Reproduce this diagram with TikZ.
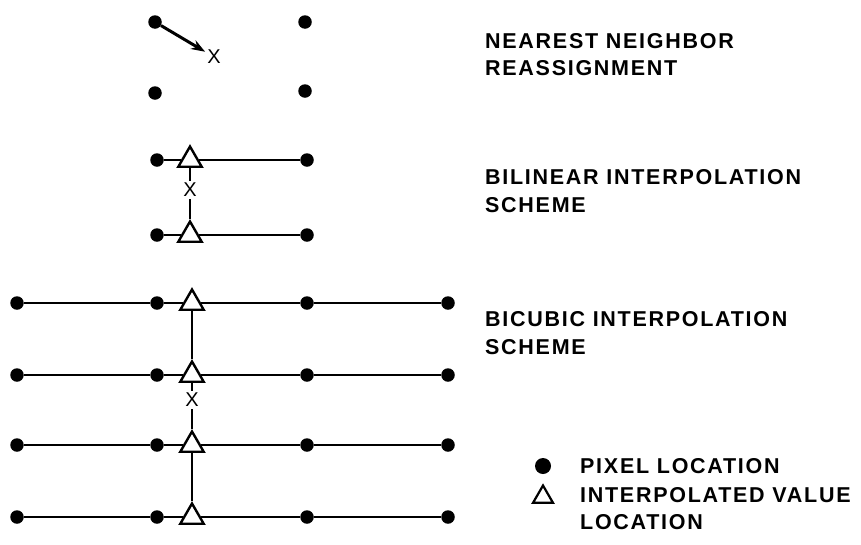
\documentclass[tikz,border=0pt]{standalone}
\usepackage{fontspec}
\setmainfont{Liberation Sans}
\newfontfamily\capsfont{Liberation Sans}[LetterSpace=8]
\usetikzlibrary{arrows.meta,shapes.geometric}

\tikzset{
  pix/.style={circle,fill=black,inner sep=0pt,minimum size=13.5pt},
  ival/.style={regular polygon,regular polygon sides=3,draw=black,line width=2.4pt,
    fill=white,inner sep=0pt,minimum size=27pt},
  xmark/.style={inner sep=2pt,font=\fontsize{20}{20}\selectfont},
  lbl/.style={anchor=west,inner sep=0pt,font=\capsfont\bfseries\fontsize{21.5}{26}\selectfont},
  wire/.style={line width=2.4pt}
}

\begin{document}
\begin{tikzpicture}[x=1pt,y=-1pt,>=Stealth]
    \useasboundingbox (0,0) rectangle (861,544);

    % nearest neighbor
    \node[pix] (nn1) at (155,22) {};
    \node[pix] (nn2) at (305,22) {};
    \node[pix] (nn3) at (155,93) {};
    \node[pix] (nn4) at (305,91) {};
    \node[xmark] (nnx) at (214,57) {X};
    \draw[-{Stealth[length=14pt,width=10pt]},line width=3pt] (nn1) -- (nnx);

    % bilinear
    \foreach \r/\y in {1/160,2/235}{
        \node[pix] (bla\r) at (157,\y) {};
        \node[ival] (blt\r) at (190,\y) {};
        \node[pix] (blb\r) at (307,\y) {};
        \draw[wire] (bla\r) -- (blt\r) -- (blb\r);
    }
    \node[xmark] (blx) at (190,190) {X};
    \draw[wire] (blt1) -- (blx) -- (blt2);

    % bicubic
    \foreach \r/\y in {1/303,2/375,3/445,4/517}{
        \node[pix] (bca\r) at (17,\y) {};
        \node[pix] (bcb\r) at (157,\y) {};
        \node[ival] (bct\r) at (192,\y) {};
        \node[pix] (bcc\r) at (307,\y) {};
        \node[pix] (bcd\r) at (448,\y) {};
        \draw[wire] (bca\r) -- (bcb\r) -- (bct\r) -- (bcc\r) -- (bcd\r);
    }
    \node[xmark] (bcx) at (192,400) {X};
    \draw[wire] (bct1) -- (bct2) -- (bcx) -- (bct3) -- (bct4);

    % labels
    \node[lbl] (t1) at (485,41) {NEAREST NEIGHBOR};
    \node[lbl] (t2) at (485,68) {REASSIGNMENT};
    \node[lbl] (t3) at (485,177) {BILINEAR INTERPOLATION};
    \node[lbl] (t4) at (485,205) {SCHEME};
    \node[lbl] (t5) at (485,319) {BICUBIC INTERPOLATION};
    \node[lbl] (t6) at (485,347) {SCHEME};

    % legend
    \node[pix,minimum size=16pt] (lgp) at (543,466) {};
    \node[lbl] (lgt1) at (580,466) {PIXEL LOCATION};
    \node[ival,minimum size=23pt,line width=2.2pt] (lgt) at (543,497) {};
    \node[lbl] (lgt2) at (580,495) {INTERPOLATED VALUE};
    \node[lbl] (lgt3) at (580,522) {LOCATION};
\end{tikzpicture}
\end{document}
